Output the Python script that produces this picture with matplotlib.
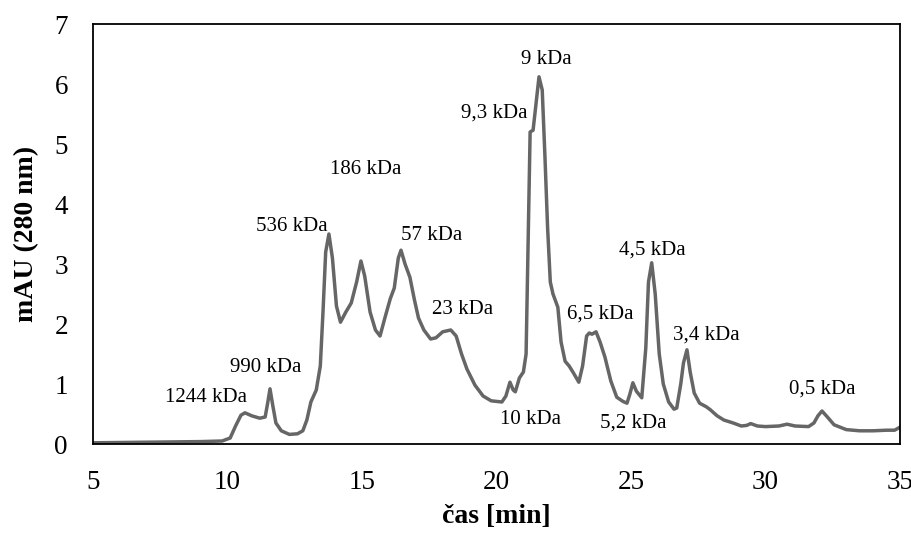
import matplotlib
matplotlib.use("Agg")
import matplotlib.pyplot as plt

plt.rcParams['font.family'] = ['Liberation Serif', 'DejaVu Serif']

time_min = [5.0, 7.0, 9.0, 9.8, 10.1, 10.3, 10.5, 10.65, 10.9, 11.2, 11.4, 11.5, 11.58, 11.68, 11.8,
            12.0, 12.3, 12.6, 12.8, 12.95, 13.1, 13.3, 13.45, 13.55, 13.65, 13.77, 13.9, 14.05, 14.2,
            14.4, 14.6, 14.8, 14.96, 15.1, 15.3, 15.5, 15.67, 15.85, 16.05, 16.2, 16.35, 16.45, 16.6,
            16.78, 16.95, 17.1, 17.3, 17.55, 17.75, 18.0, 18.3, 18.5, 18.7, 18.9, 19.2, 19.5, 19.8,
            20.2, 20.35, 20.5, 20.62, 20.7, 20.85, 21.0, 21.1, 21.18, 21.25, 21.36, 21.45, 21.58,
            21.7, 21.8, 21.9, 22.0, 22.1, 22.28, 22.4, 22.55, 22.7, 22.84, 23.06, 23.2, 23.35, 23.45,
            23.55, 23.7, 23.85, 24.03, 24.25, 24.47, 24.7, 24.85, 24.95, 25.07, 25.2, 25.4, 25.55,
            25.65, 25.77, 25.9, 26.05, 26.2, 26.4, 26.6, 26.7, 26.85, 26.95, 27.08, 27.2, 27.35,
            27.55, 27.8, 27.95, 28.2, 28.45, 28.8, 29.1, 29.3, 29.45, 29.7, 30.0, 30.5, 30.8, 31.1,
            31.6, 31.8, 31.95, 32.1, 32.3, 32.55, 33.0, 33.5, 34.0, 34.5, 34.8, 35.0]
absorbance = [0.02, 0.03, 0.04, 0.05, 0.1, 0.3, 0.48, 0.52, 0.47, 0.43, 0.45, 0.7, 0.92, 0.65, 0.35,
              0.22, 0.16, 0.17, 0.22, 0.4, 0.7, 0.9, 1.3, 2.2, 3.2, 3.5, 3.1, 2.3, 2.03,
              2.2, 2.35, 2.7, 3.05, 2.8, 2.2, 1.9, 1.8, 2.1, 2.42, 2.6, 3.1, 3.23, 3.0,
              2.78, 2.4, 2.1, 1.9, 1.75, 1.77, 1.87, 1.9, 1.8, 1.5, 1.25, 0.98, 0.8, 0.72,
              0.7, 0.8, 1.03, 0.9, 0.87, 1.1, 1.2, 1.5, 3.5, 5.2, 5.23, 5.6, 6.12,
              5.9, 4.8, 3.6, 2.7, 2.5, 2.28, 1.7, 1.38, 1.3, 1.2, 1.03, 1.3, 1.8, 1.85,
              1.83, 1.87, 1.7, 1.45, 1.05, 0.78, 0.71, 0.68, 0.82, 1.02, 0.88, 0.77, 1.6,
              2.7, 3.02, 2.5, 1.5, 1.0, 0.7, 0.58, 0.6, 1.0, 1.35, 1.57, 1.2, 0.85,
              0.68, 0.62, 0.57, 0.47, 0.4, 0.35, 0.3, 0.31, 0.34, 0.3, 0.29, 0.3, 0.33, 0.3,
              0.29, 0.35, 0.47, 0.55, 0.45, 0.32, 0.24, 0.22, 0.22, 0.23, 0.23, 0.28]

labels = ['1244 kDa', '990 kDa', '536 kDa', '186 kDa', '57 kDa', '23 kDa', '9,3 kDa', '9 kDa',
          '10 kDa', '6,5 kDa', '4,5 kDa', '5,2 kDa', '3,4 kDa', '0,5 kDa']
label_x = [9.2, 11.43, 12.4, 15.15, 17.6, 18.75, 19.9, 21.85, 21.25, 23.85, 25.78, 25.1, 27.8, 32.1]
label_y = [0.78, 1.27, 3.63, 4.58, 3.48, 2.25, 5.52, 6.4, 0.4, 2.17, 3.23, 0.35, 1.82, 0.92]

x_ticks = [5, 10, 15, 20, 25, 30, 35]
y_ticks = [0, 1, 2, 3, 4, 5, 6, 7]

fig = plt.figure(figsize=(9.12, 5.35), dpi=100)
ax = fig.add_axes([93/912, 1 - 444/535, (900-93)/912, (444-24)/535])
ax.plot(time_min, absorbance, color='#666666', lw=2.5, solid_joinstyle='round', solid_capstyle='round')

for t, x, y in zip(labels, label_x, label_y):
    ax.text(x, y, t, ha='center', va='center', fontsize=15, color='black')

ax.set_xlim(5, 35)
ax.set_ylim(0, 7)
ax.set_xticks(x_ticks)
ax.set_yticks(y_ticks)
ax.tick_params(axis='x', length=0, labelsize=19.5, pad=19)
ax.tick_params(axis='y', length=0, labelsize=19.5, pad=18)
for s in ax.spines.values():
    s.set_linewidth(1.3)
    s.set_color('black')
ax.set_xlabel('čas [min]', fontsize=20, fontweight='bold', labelpad=6)
ax.set_ylabel('mAU (280 nm)', fontsize=20, fontweight='bold', labelpad=11)

fig.savefig('out.png', dpi=100)
